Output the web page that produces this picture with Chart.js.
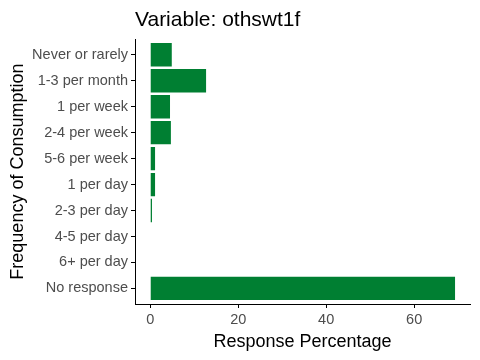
<!DOCTYPE html>
<html lang="en">
<head>
    <meta charset="UTF-8">
    <title>othswt1f</title>
    <script src="https://cdn.jsdelivr.net/npm/chart.js@4.4.0/dist/chart.umd.min.js"></script>
    <style>
        body { margin: 0; background: #fff; }
    </style>
</head>
<body>
    <canvas id="myChart" width="480" height="360"></canvas>

    <script>
        // dados
        const categorias = ['Never or rarely', '1-3 per month', '1 per week', '2-4 per week', '5-6 per week',
            '1 per day', '2-3 per day', '4-5 per day', '6+ per day', 'No response'];
        const percentuais = [4.9, 12.7, 4.5, 4.7, 1.1, 1.1, 0.4, 0, 0, 69.3];
        const ticksX = [0, 20, 40, 60];

        const corBarra = '#007F32';
        const fonte = "'Liberation Sans', Arial, sans-serif";

        const dados = {
            datasets: [{
                data: percentuais.map((v, i) => ({ x: v, y: i })),
                backgroundColor: corBarra,
                borderWidth: 0,
                barPercentage: 0.9,
                categoryPercentage: 1
            }]
        };

        const config = {
            type: 'bar',
            data: dados,
            options: {
                indexAxis: 'y',
                responsive: false,
                animation: false,
                layout: { padding: { left: 0, right: 10, top: 0, bottom: 0 } },
                plugins: {
                    legend: { display: false },
                    tooltip: { enabled: false },
                    title: {
                        display: true,
                        text: 'Variable: othswt1f',
                        align: 'start',
                        fullSize: false,
                        color: '#000',
                        font: { family: fonte, size: 21, weight: 'normal', lineHeight: 1.2 },
                        padding: { top: 8, bottom: 6 }
                    }
                },
                scales: {
                    x: {
                        type: 'linear',
                        min: -3.46,
                        max: 72.7,
                        afterBuildTicks: (s) => { s.ticks = ticksX.map(v => ({ value: v })); },
                        afterFit: (s) => { s.height = 56; },
                        grid: { display: true, drawOnChartArea: false, drawTicks: true, tickLength: 4, color: '#000' },
                        border: { display: true, color: '#000', width: 1 },
                        ticks: { color: '#4D4D4D', font: { family: fonte, size: 14.5 }, padding: 3, maxRotation: 0 },
                        title: {
                            display: true, text: 'Response Percentage', color: '#000',
                            font: { family: fonte, size: 18 }, padding: { top: 0, bottom: 7 }
                        }
                    },
                    y: {
                        type: 'linear',
                        min: -0.6,
                        max: 9.6,
                        reverse: true,
                        offset: false,
                        afterBuildTicks: (s) => { s.ticks = categorias.map((c, i) => ({ value: i })); },
                        afterFit: (s) => { s.width = 135; },
                        grid: { display: true, offset: false, drawOnChartArea: false, drawTicks: true, tickLength: 4, color: '#000' },
                        border: { display: true, color: '#000', width: 1 },
                        ticks: {
                            color: '#4D4D4D', font: { family: fonte, size: 14.5 }, padding: 3,
                            callback: (v) => categorias[v]
                        },
                        title: {
                            display: true, text: 'Frequency of Consumption', color: '#000',
                            font: { family: fonte, size: 18 }, padding: { top: 7, bottom: 4 }
                        }
                    }
                }
            }
        };

        let myChart = new Chart(document.getElementById('myChart'), config);
    </script>
</body>
</html>
